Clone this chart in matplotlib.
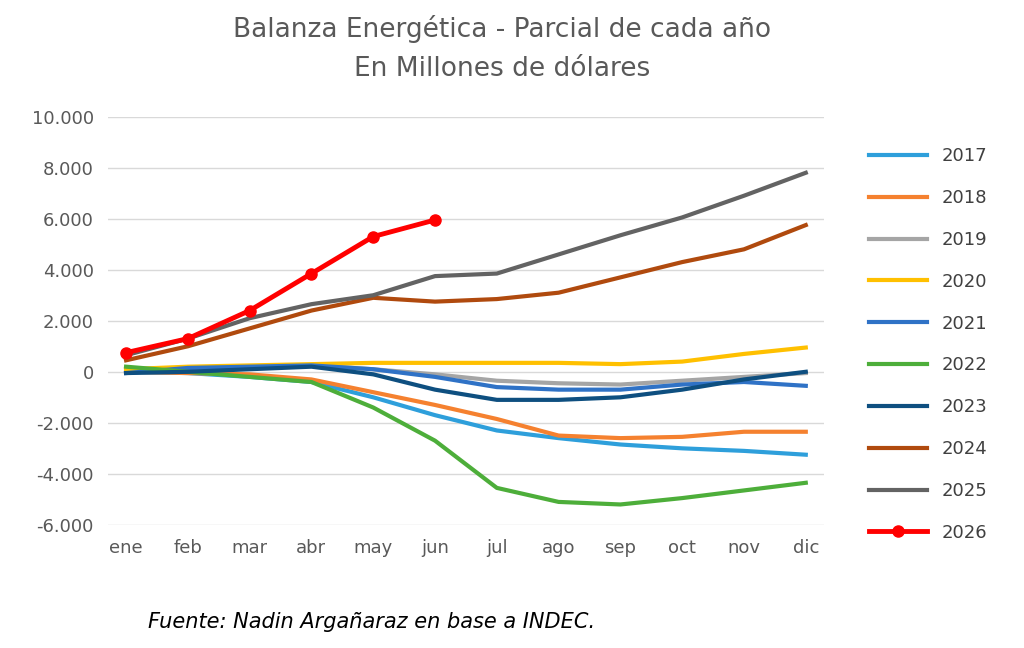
import matplotlib.pyplot as plt
from matplotlib.ticker import FuncFormatter

meses = ["ene", "feb", "mar", "abr", "may", "jun", "jul", "ago", "sep", "oct", "nov", "dic"]

y2017 = [0, -50, -200, -400, -1000, -1700, -2300, -2600, -2850, -3000, -3100, -3250]
y2018 = [0, -50, -100, -300, -800, -1300, -1850, -2500, -2600, -2550, -2350, -2350]
y2019 = [0, 100, 200, 250, 100, -100, -350, -450, -500, -350, -200, -50]
y2020 = [100, 200, 250, 300, 350, 350, 350, 350, 300, 400, 700, 950]
y2021 = [-50, 150, 200, 250, 100, -200, -600, -700, -700, -500, -400, -550]
y2022 = [200, 0, -200, -400, -1400, -2700, -4550, -5100, -5200, -4950, -4650, -4350]
y2023 = [-50, 0, 100, 200, -100, -700, -1100, -1100, -1000, -700, -300, 0]
y2024 = [450, 1000, 1700, 2400, 2900, 2750, 2850, 3100, 3700, 4300, 4800, 5750]
y2025 = [650, 1300, 2100, 2650, 3000, 3750, 3850, 4600, 5350, 6050, 6900, 7800]
y2026 = [750, 1300, 2400, 3850, 5300, 5950]

series = [
    ("2017", y2017, "#2E9FDB"),
    ("2018", y2018, "#F5812F"),
    ("2019", y2019, "#A5A5A5"),
    ("2020", y2020, "#FFC000"),
    ("2021", y2021, "#2F72C6"),
    ("2022", y2022, "#4DAE3A"),
    ("2023", y2023, "#0E4F80"),
    ("2024", y2024, "#B04A0E"),
    ("2025", y2025, "#636363"),
]

fig = plt.figure(figsize=(10.24, 6.48), dpi=100)
ax = fig.add_axes([0.105, 0.19, 0.70, 0.63])

x = list(range(12))
for name, vals, col in series:
    ax.plot(x, vals, color=col, lw=3, label=name)
ax.plot(range(len(y2026)), y2026, color="#FF0000", lw=3.5, marker="o", ms=8, label="2026")

ax.set_xlim(-0.3, 11.3)
ax.set_ylim(-6000, 10000)
ax.set_yticks(range(-6000, 10001, 2000))
ax.yaxis.set_major_formatter(FuncFormatter(lambda v, p: f"{int(v):,}".replace(",", ".")))
ax.set_xticks(x)
ax.set_xticklabels(meses)
ax.grid(axis="y", color="#D9D9D9", lw=1)
ax.set_axisbelow(True)
for s in ax.spines.values():
    s.set_visible(False)
ax.tick_params(length=0, labelsize=13, colors="#595959", pad=10)

ax.legend(loc="upper left", bbox_to_anchor=(1.04, 0.965), frameon=False, fontsize=13,
          labelspacing=1.32, handlelength=3.2, labelcolor="#404040")

fig.text(0.49, 0.955, "Balanza Energética - Parcial de cada año", ha="center", va="center",
         fontsize=19, color="#595959")
fig.text(0.49, 0.893, "En Millones de dólares", ha="center", va="center",
         fontsize=19, color="#595959")
fig.text(0.145, 0.025, "Fuente: Nadin Argañaraz en base a INDEC.", ha="left", va="bottom",
         fontsize=15, style="italic", color="black")

fig.savefig("out.png", dpi=100)
